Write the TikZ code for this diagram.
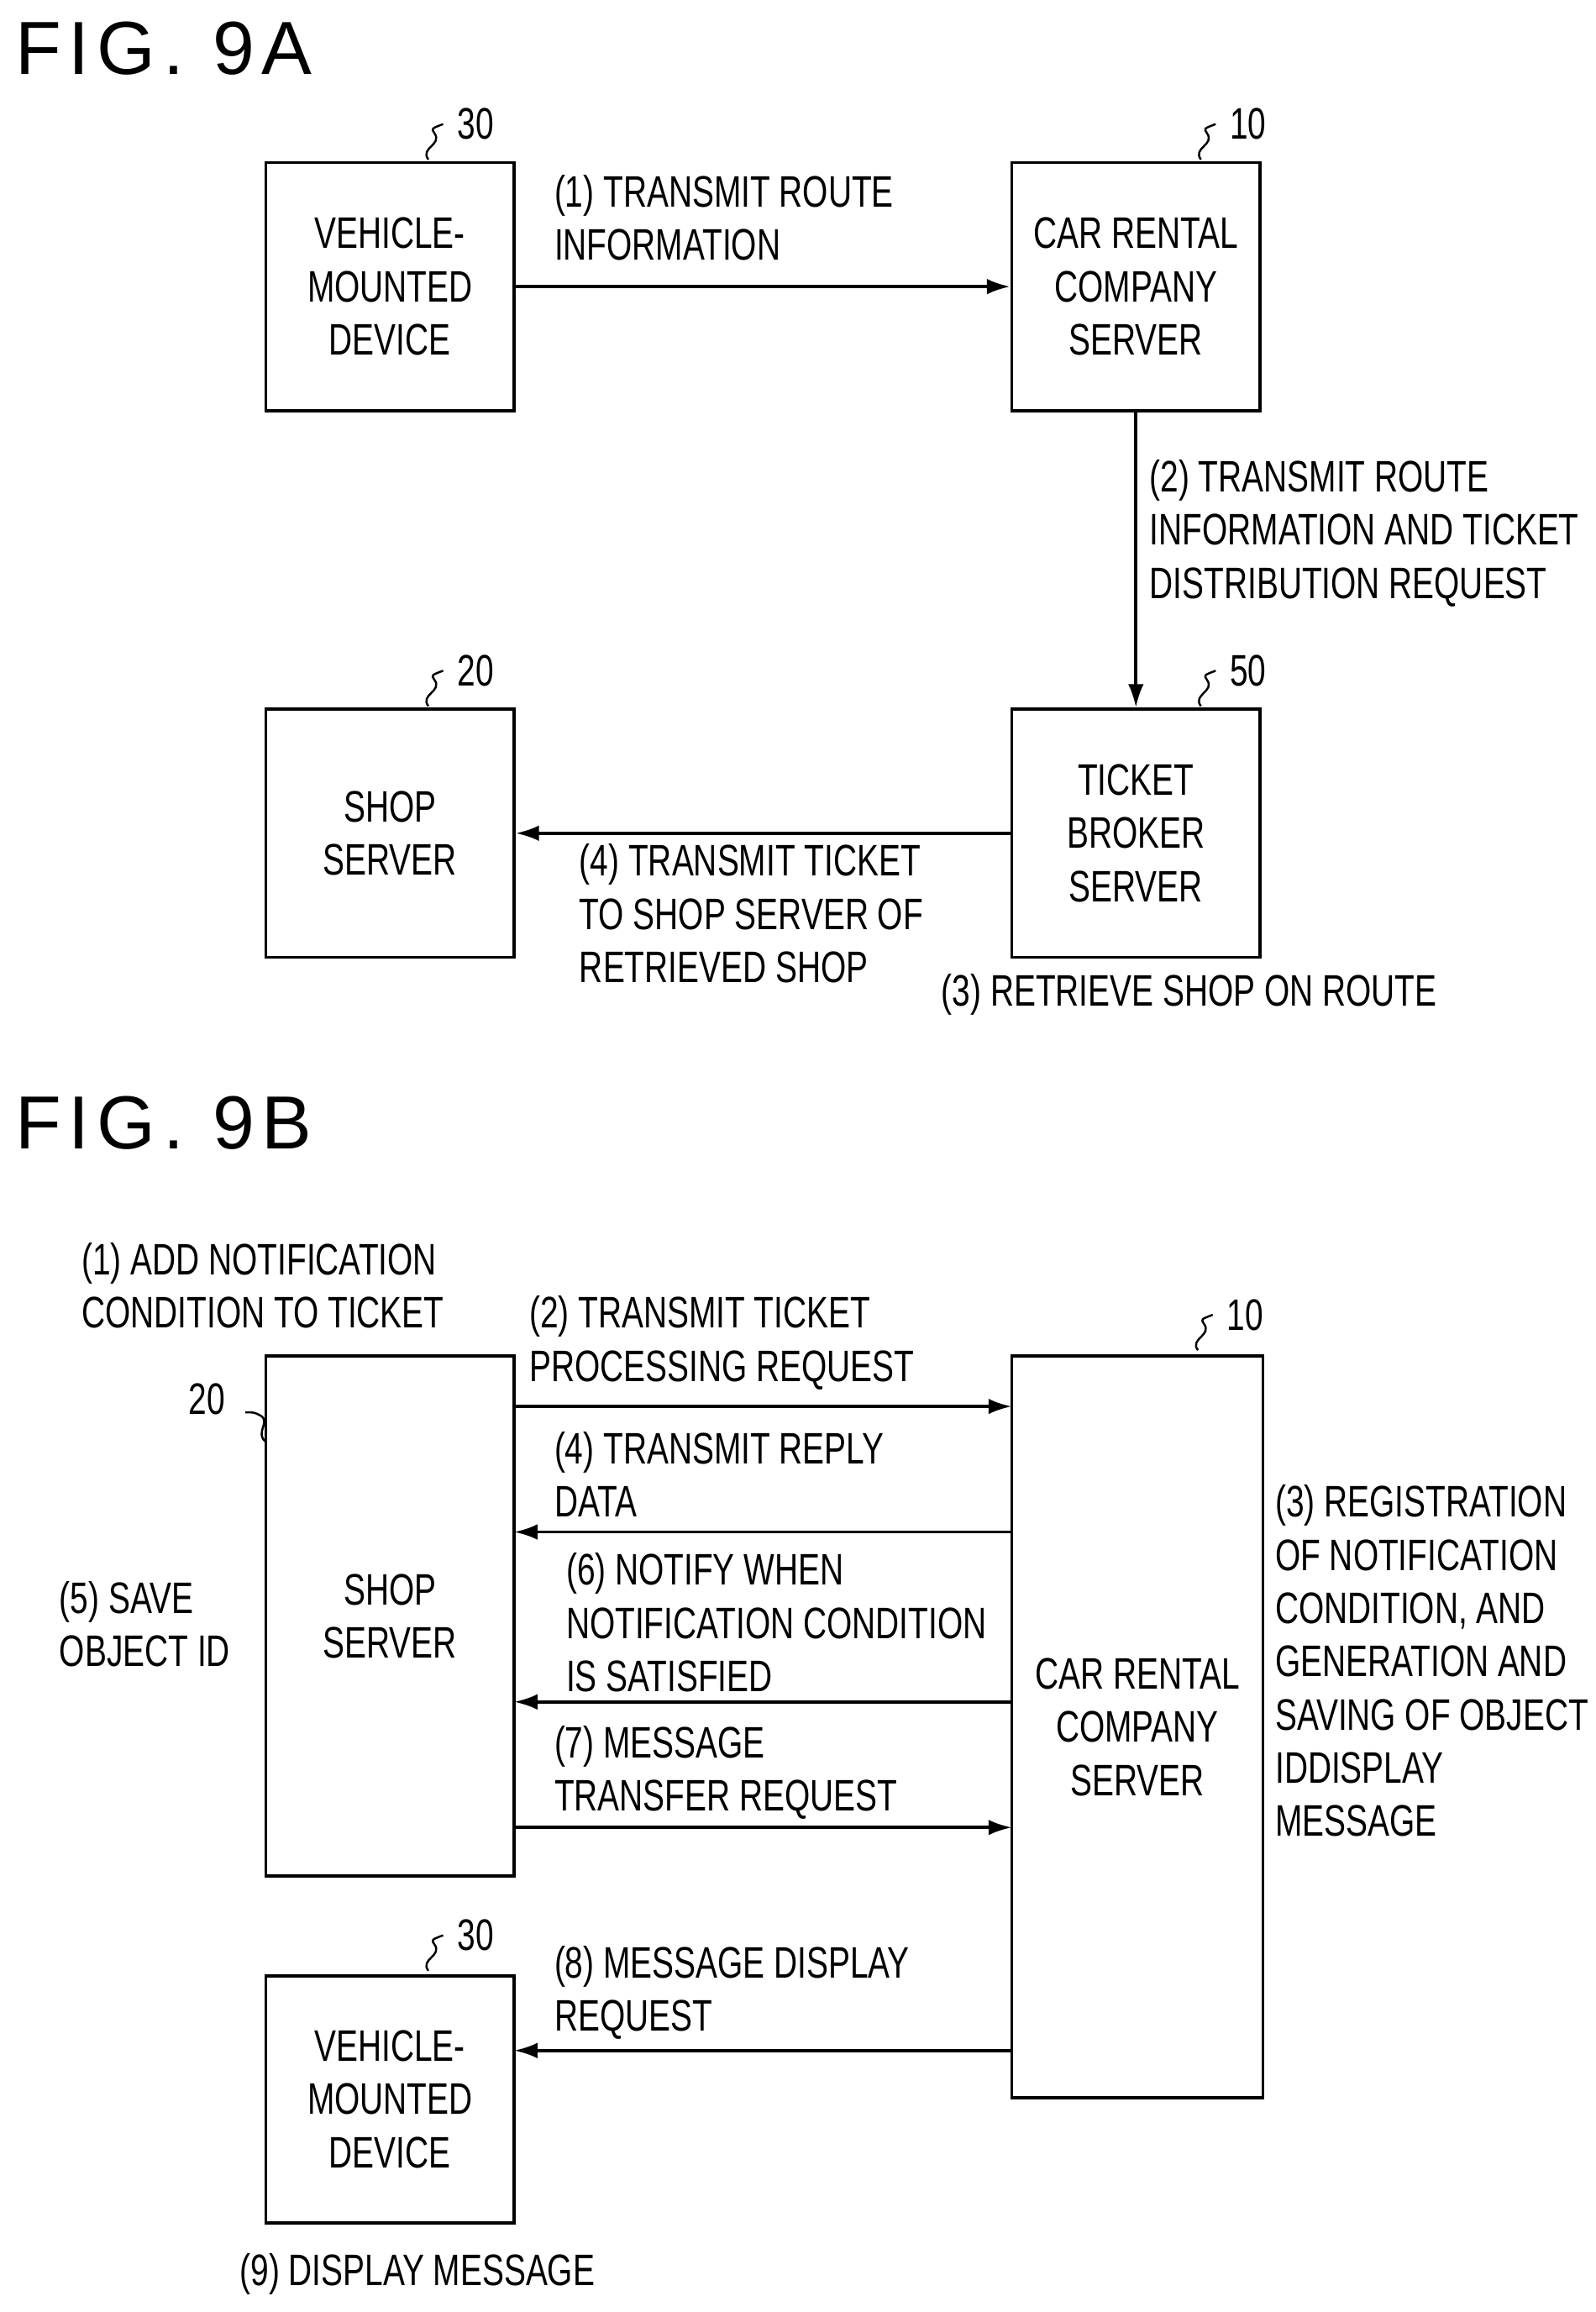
\documentclass[tikz,border=0pt]{standalone}
\usetikzlibrary{arrows.meta}
\usepackage{fontspec}
\setmainfont[FakeStretch=0.74]{Liberation Sans}
\newfontfamily\titlefont[LetterSpace=10]{Liberation Sans}
\begin{document}
\begin{tikzpicture}[x=0.02cm,y=-0.02cm,
  box/.style={draw,line width=1.2pt,align=center,font=\fontsize{17}{20.5}\selectfont},
  lab/.style={anchor=north west,inner sep=0,align=left,font=\fontsize{17}{20.5}\selectfont},
  num/.style={inner sep=0,font=\fontsize{17}{20.5}\selectfont},
  arr/.style={line width=1.2pt,-{Latex[length=9pt,width=6pt]}},
  sq/.style={line width=0.8pt}]
\useasboundingbox (0,0) rectangle (1080,1565);
\node[anchor=west,inner sep=0,font=\titlefont\fontsize{29}{30}\selectfont] (t1) at (10,33) {FIG. 9A};
\node[anchor=west,inner sep=0,font=\titlefont\fontsize{29}{30}\selectfont] (t2) at (10,760) {FIG. 9B};
% 9A
\node[box,minimum width=168*0.02cm,minimum height=168*0.02cm] (v1) at (264,194) {VEHICLE-\\MOUNTED\\DEVICE};
\node[box,minimum width=168*0.02cm,minimum height=168*0.02cm] (c1) at (769,194) {CAR RENTAL\\COMPANY\\SERVER};
\node[box,minimum width=168*0.02cm,minimum height=168*0.02cm] (s1) at (264,564) {SHOP\\SERVER};
\node[box,minimum width=168*0.02cm,minimum height=168*0.02cm] (b1) at (769,564) {TICKET\\BROKER\\SERVER};
\draw[arr] (v1.east) -- (c1.west);
\draw[arr] (c1.south) -- (b1.north);
\draw[arr] (b1.west) -- (s1.east);
\node[lab] (l1) at (375,118) {(1) TRANSMIT ROUTE\\INFORMATION};
\node[lab] (l2) at (778,311) {(2) TRANSMIT ROUTE\\INFORMATION AND TICKET\\DISTRIBUTION REQUEST};
\node[lab] (l4) at (392,571) {(4) TRANSMIT TICKET\\TO SHOP SERVER OF\\RETRIEVED SHOP};
\node[lab] (l3) at (637,659) {(3) RETRIEVE SHOP ON ROUTE};
\node[num] (n30a) at (322,84) {30};
\node[num] (n10a) at (845,84) {10};
\node[num] (n20a) at (322,454) {20};
\node[num] (n50a) at (845,454) {50};
\foreach \x/\y in {290/108,813/108,290/478,813/478}
  \draw[sq] (\x,\y) .. controls (\x-6,\y-8) and (\x+10,\y-10) .. (\x+4,\y-18) .. controls (\x+2,\y-21) .. (\x+10,\y-24);
% 9B
\node[box,minimum width=168*0.02cm,minimum height=352*0.02cm] (s2) at (264,1094) {SHOP\\SERVER};
\node[box,minimum width=170*0.02cm,minimum height=502*0.02cm] (c2) at (770,1169) {CAR RENTAL\\COMPANY\\SERVER};
\node[box,minimum width=168*0.02cm,minimum height=167*0.02cm] (v2) at (264,1421) {VEHICLE-\\MOUNTED\\DEVICE};
\draw[arr] (348,952) -- (685,952);
\draw[arr] (685,1037) -- (348,1037);
\draw[arr] (685,1152) -- (348,1152);
\draw[arr] (348,1237) -- (685,1237);
\draw[arr] (685,1388) -- (348,1388);
\node[lab] (m1) at (55,841) {(1) ADD NOTIFICATION\\CONDITION TO TICKET};
\node[lab] (m2) at (358,877) {(2) TRANSMIT TICKET\\PROCESSING REQUEST};
\node[lab] (m4) at (375,969) {(4) TRANSMIT REPLY\\DATA};
\node[lab] (m6) at (383,1051) {(6) NOTIFY WHEN\\NOTIFICATION CONDITION\\IS SATISFIED};
\node[lab] (m7) at (375,1168) {(7) MESSAGE\\TRANSFER REQUEST};
\node[lab] (m8) at (375,1317) {(8) MESSAGE DISPLAY\\REQUEST};
\node[lab] (m5) at (40,1070) {(5) SAVE\\OBJECT ID};
\node[lab] (m3) at (863,1005) {(3) REGISTRATION\\OF NOTIFICATION\\CONDITION, AND\\GENERATION AND\\SAVING OF OBJECT\\IDDISPLAY\\MESSAGE};
\node[lab] (m9) at (162,1525) {(9) DISPLAY MESSAGE};
\node[num] (n10b) at (843,890) {10};
\node[num] (n20b) at (140,947) {20};
\node[num] (n30b) at (322,1310) {30};
\foreach \x/\y in {811/914,290/1334}
  \draw[sq] (\x,\y) .. controls (\x-6,\y-8) and (\x+10,\y-10) .. (\x+4,\y-18) .. controls (\x+2,\y-21) .. (\x+10,\y-24);
\draw[sq] (180,976) .. controls (172,970) and (184,962) .. (176,958) .. controls (172,956) .. (166,956);
\end{tikzpicture}
\end{document}
